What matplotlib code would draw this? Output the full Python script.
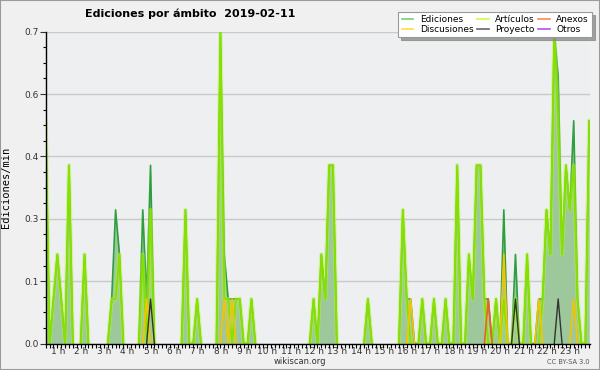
import numpy as np
import matplotlib
matplotlib.use("Agg")
import matplotlib.pyplot as plt
from matplotlib.patches import Rectangle
from matplotlib.lines import Line2D

# Edits per minute, one value per 10 minute bin (00:00 -> 23:20)
ediciones = [
    0.5, 0, 0.1, 0.2, 0.1, 0, 0.4, 0, 0, 0, 0.2, 0,
    0, 0, 0, 0, 0, 0.1, 0.3, 0.2, 0, 0, 0, 0,
    0, 0.3, 0.1, 0.4, 0, 0, 0, 0, 0, 0, 0, 0,
    0.3, 0, 0, 0.1, 0, 0, 0, 0, 0, 0.7, 0.2, 0.1,
    0.1, 0.1, 0.1, 0, 0, 0.1, 0, 0, 0, 0, 0, 0,
    0, 0, 0, 0, 0, 0, 0, 0, 0, 0.1, 0, 0.2,
    0.1, 0.4, 0.4, 0, 0, 0, 0, 0, 0, 0, 0, 0.1,
    0, 0, 0, 0, 0, 0, 0, 0, 0.3, 0.1, 0.1, 0,
    0, 0.1, 0, 0, 0.1, 0, 0, 0.1, 0, 0, 0.4, 0,
    0, 0.2, 0.1, 0.4, 0.4, 0.1, 0.1, 0, 0.1, 0, 0.3, 0,
    0, 0.2, 0, 0, 0.2, 0, 0, 0.1, 0.1, 0.3, 0.2, 0.7,
    0.6, 0.2, 0.4, 0.3, 0.5, 0.1, 0, 0, 0.5,
]
articulos = [
    0.5, 0, 0.1, 0.2, 0.1, 0, 0.4, 0, 0, 0, 0.2, 0,
    0, 0, 0, 0, 0, 0.1, 0.1, 0.2, 0, 0, 0, 0,
    0, 0.2, 0, 0.3, 0, 0, 0, 0, 0, 0, 0, 0,
    0.3, 0, 0, 0.1, 0, 0, 0, 0, 0, 0.7, 0.1, 0.1,
    0, 0.1, 0.1, 0, 0, 0.1, 0, 0, 0, 0, 0, 0,
    0, 0, 0, 0, 0, 0, 0, 0, 0, 0.1, 0, 0.2,
    0.1, 0.4, 0.4, 0, 0, 0, 0, 0, 0, 0, 0, 0.1,
    0, 0, 0, 0, 0, 0, 0, 0, 0.3, 0.1, 0, 0,
    0, 0.1, 0, 0, 0.1, 0, 0, 0.1, 0, 0, 0.4, 0,
    0, 0.2, 0.1, 0.4, 0.4, 0.1, 0, 0, 0.1, 0, 0.1, 0,
    0, 0.1, 0, 0, 0.2, 0, 0, 0, 0.1, 0.3, 0.2, 0.7,
    0.5, 0.2, 0.4, 0.3, 0.4, 0.1, 0, 0, 0.5,
]
# sparse series: bin -> edits/min
discusiones = {26: 0.1, 46: 0.1, 48: 0.1, 94: 0.1, 118: 0.2, 127: 0.1, 136: 0.1}
anexos = {114: 0.1}
proyecto = {27: 0.1, 121: 0.1, 132: 0.1}
otros = {}

hour_labels = ["%d h" % h for h in range(1, 24)]

n = len(ediciones)
x = np.arange(n)


def expand(d):
    arr = np.zeros(n)
    for k, v in d.items():
        arr[k] = v
    return arr


def hide_flat(vals):
    # no line along the baseline where a point and its neighbours are all zero
    v = np.asarray(vals, dtype=float)
    out = v.copy()
    for i in range(n):
        lo, hi = max(i - 1, 0), min(i + 2, n)
        if not v[lo:hi].any():
            out[i] = np.nan
    return out


fig = plt.figure(figsize=(6, 3.7), dpi=100, facecolor="#f0f0f0")
ax = fig.add_axes([45.7 / 600, 1 - 343.5 / 370, (590 - 45.7) / 600, (343.5 - 31.7) / 370])
ax.set_facecolor("#eeeff1")

ax.fill_between(x, ediciones, color="#9dc89b", lw=0, zorder=1)
ax.plot(x, hide_flat(ediciones), color="#2e9e3e", lw=1.2, zorder=2)
ax.plot(x, hide_flat(articulos), color="#b4f23c", lw=3.0, alpha=0.45, zorder=3)
ax.plot(x, hide_flat(articulos), color="#86e000", lw=1.3, zorder=3)
ax.plot(x, hide_flat(expand(discusiones)), color="#f5c400", lw=1.2, zorder=4)
ax.plot(x, hide_flat(expand(anexos)), color="#f06020", lw=1.2, zorder=4)
ax.plot(x, hide_flat(expand(proyecto)), color="#333333", lw=1.0, zorder=5)
ax.plot(x, hide_flat(expand(otros)), color="#9933ff", lw=1.0, zorder=5)

ax.set_xlim(0, 140.2)
ax.set_ylim(0, 0.7)

# y axis
yt = np.arange(6) * 0.14
ax.set_yticks(yt)
ax.set_yticklabels(["%.1f" % v for v in yt])
ax.set_yticks(np.arange(0, 0.7001, 0.035), minor=True)
ax.grid(axis="y", color="#c9c9c9", lw=1)
ax.set_axisbelow(True)

# x axis: ticks every 10 minutes, labels per hour
ax.set_xticks(np.arange(0, 141), minor=True)
ax.set_xticks([6 * h - 2.9 for h in range(1, 24)])
ax.set_xticklabels(hour_labels)
ax.tick_params(axis="x", which="major", length=0, pad=2.5, labelsize=6.5, colors="#333333")
ax.tick_params(axis="x", which="minor", length=3, width=0.8, direction="out")
ax.tick_params(axis="y", which="major", length=4.3, width=0.8, labelsize=6.5, colors="#333333", pad=1)
ax.tick_params(axis="y", which="minor", length=2.2, width=0.8)

for s in ["top", "right"]:
    ax.spines[s].set_visible(False)
for s in ["left", "bottom"]:
    ax.spines[s].set_color("black")
    ax.spines[s].set_linewidth(1)
    ax.spines[s].set_zorder(10)

ax.set_ylabel("Ediciones/min", family="DejaVu Sans Mono", fontsize=7.5, labelpad=9)

fig.text(85 / 600, 1 - 14 / 370, "Ediciones por ámbito  2019-02-11",
         fontsize=8, fontweight="bold", va="center", ha="left")
fig.text(300 / 600, 1 - 362 / 370, "wikiscan.org", fontsize=6, ha="center", va="center", color="#333333")
fig.text(590 / 600, 1 - 362 / 370, "CC BY-SA 3.0", fontsize=4.8, ha="right", va="center", color="#555555")

# legend
handles = [
    Line2D([], [], color="#77cc77", lw=1.2, label="Ediciones"),
    Line2D([], [], color="#ffdd44", lw=1.2, label="Discusiones"),
    Line2D([], [], color="#ccff44", lw=1.2, label="Artículos"),
    Line2D([], [], color="#666666", lw=1.2, label="Proyecto"),
    Line2D([], [], color="#ff8855", lw=1.2, label="Anexos"),
    Line2D([], [], color="#aa55ff", lw=1.2, label="Otros"),
]
leg = fig.legend(handles=handles, loc="upper right", bbox_to_anchor=(592 / 600, 1 - 12 / 370),
                 ncol=3, fontsize=6.5, handlelength=1.3, handletextpad=0.7, columnspacing=0.4,
                 labelspacing=0.1, borderpad=0.35, borderaxespad=0, fancybox=False, framealpha=1,
                 edgecolor="#999999", shadow={"color": "0.55", "alpha": 0.8})
leg.get_frame().set_linewidth(0.8)
leg.set_zorder(20)

fig.add_artist(Rectangle((0, 0), 1, 1, transform=fig.transFigure, fill=False,
                         edgecolor="#9a9a9a", lw=1.5))

fig.savefig("out.png", dpi=100, facecolor=fig.get_facecolor())
